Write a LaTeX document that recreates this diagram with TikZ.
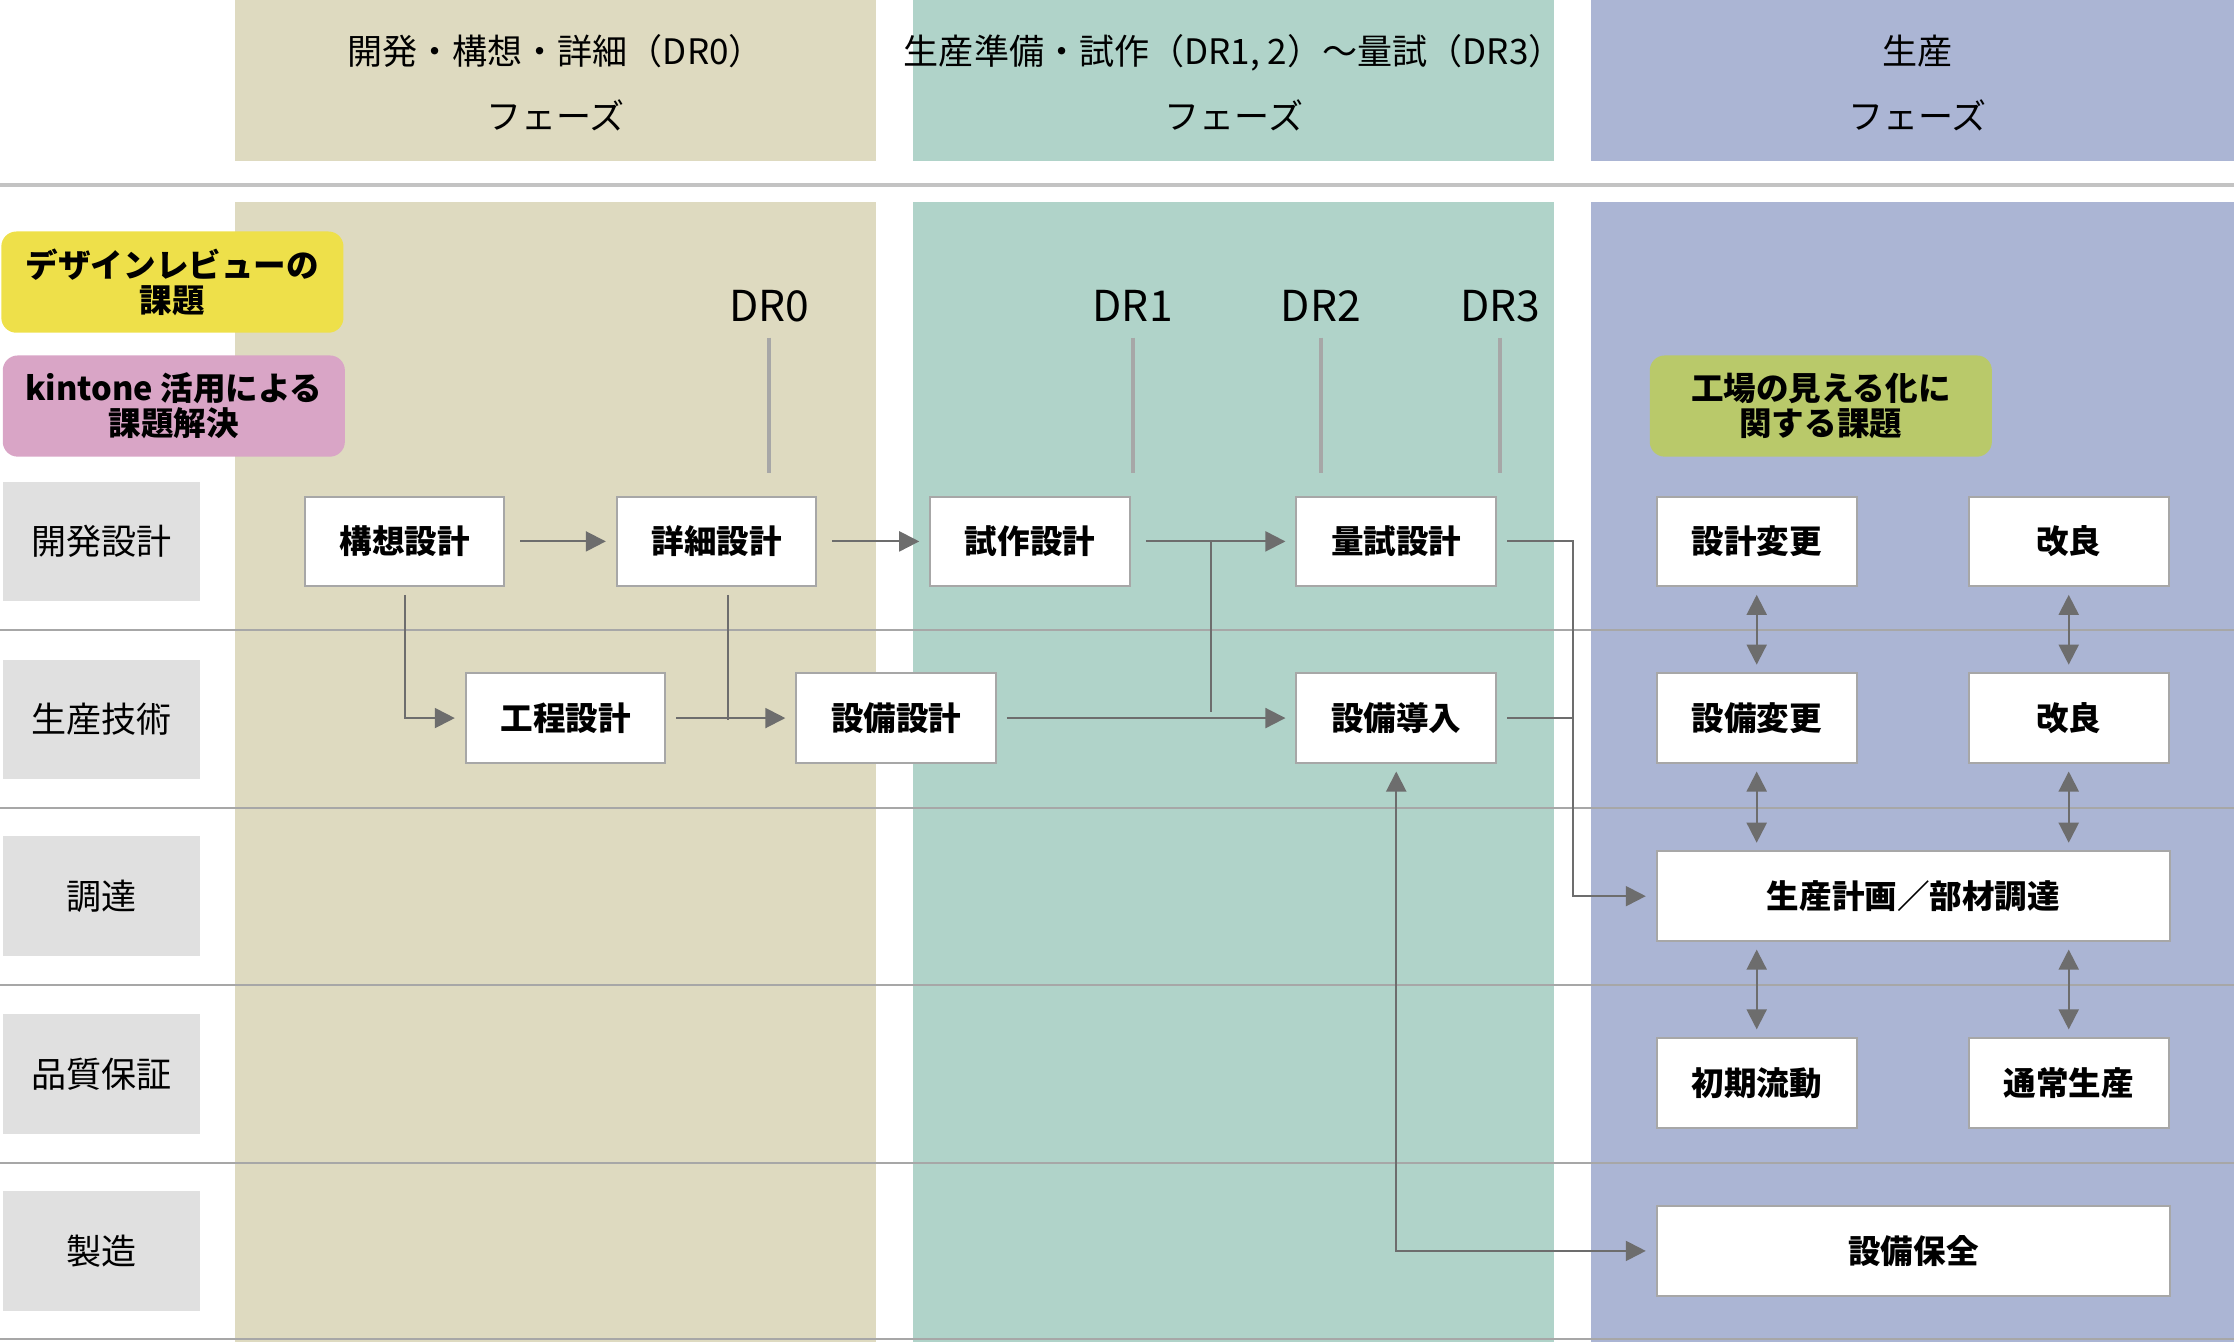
\documentclass[tikz,border=0pt]{standalone}
\usepackage{fontspec}
\setmainfont{Noto Sans CJK JP}
\usetikzlibrary{arrows.meta,positioning}
\definecolor{phaseA}{HTML}{DEDAC0}
\definecolor{phaseB}{HTML}{B0D3C9}
\definecolor{phaseC}{HTML}{ABB5D4}
\definecolor{rowgray}{HTML}{E0E0E0}
\definecolor{linegray}{HTML}{6D6D6D}
\tikzset{
  task/.style={draw=linegray!60,fill=white,minimum width=1.4cm,minimum height=0.63cm,font=\fontsize{6.5}{7}\selectfont\bfseries,inner sep=0pt},
  widetask/.style={task,minimum width=3.6cm},
  rowlabel/.style={fill=rowgray,minimum width=1.38cm,minimum height=0.84cm,font=\fontsize{7}{8}\selectfont,inner sep=0pt},
  tag/.style={rounded corners=3pt,minimum width=2.4cm,minimum height=0.71cm,align=center,font=\fontsize{6.5}{7}\selectfont\bfseries,inner sep=0pt},
  flow/.style={draw=linegray,-{Triangle[length=4pt,width=4pt]}},
  both/.style={draw=linegray,{Triangle[length=4pt,width=4pt]}-{Triangle[length=4pt,width=4pt]}},
  drmark/.style={font=\fontsize{8.5}{9}\selectfont}
}
\begin{document}
\begin{tikzpicture}[x=0.01cm,y=-0.01cm]
\useasboundingbox (0,0) rectangle (1568,942);
% phases
\fill[phaseA] (165,0) rectangle (615,113);
\fill[phaseB] (641,0) rectangle (1091,113);
\fill[phaseC] (1117,0) rectangle (1568,113);
\fill[phaseA] (165,142) rectangle (615,942);
\fill[phaseB] (641,142) rectangle (1091,942);
\fill[phaseC] (1117,142) rectangle (1568,942);
\node[align=center,font=\fontsize{7}{13}\selectfont] (hA) at (390,58) {開発・構想・詳細（DR0）\\フェーズ};
\node[align=center,font=\fontsize{7}{13}\selectfont] (hB) at (866,58) {生産準備・試作（DR1, 2）〜量試（DR3）\\フェーズ};
\node[align=center,font=\fontsize{7}{13}\selectfont] (hC) at (1346,58) {生産\\フェーズ};
\draw[rowgray!70!gray,line width=0.8pt] (0,130) -- (1568,130);
% row lines
\foreach \y in {442,567,691,816,940}
  \draw[linegray!60] (0,\y) -- (1568,\y);
% row labels
\node[rowlabel] (r1) at (71,380) {開発設計};
\node[rowlabel] (r2) at (71,505) {生産技術};
\node[rowlabel] (r3) at (71,629) {調達};
\node[rowlabel] (r4) at (71,754) {品質保証};
\node[rowlabel] (r5) at (71,878) {製造};
% tags
\node[tag,fill={rgb,255:red,238;green,224;blue,74}] (t1) at (121,198) {デザインレビューの\\課題};
\node[tag,fill={rgb,255:red,217;green,165;blue,198}] (t2) at (122,285) {kintone 活用による\\課題解決};
\node[tag,fill={rgb,255:red,185;green,201;blue,106}] (t3) at (1278,285) {工場の見える化に\\関する課題};
% DR marks
\foreach \n/\x in {0/540,1/795,2/927,3/1053}{
  \node[drmark] (dr\n) at (\x,215) {DR\n};
  \draw[linegray!60,line width=0.8pt] (\x,237) -- (\x,332);
}
% tasks
\node[task] (kousou) at (284,380) {構想設計};
\node[task] (shousai) at (503,380) {詳細設計};
\node[task] (shisaku) at (723,380) {試作設計};
\node[task] (ryoushi) at (980,380) {量試設計};
\node[task] (koutei) at (397,504) {工程設計};
\node[task] (setsubi) at (629,504) {設備設計};
\node[task] (dounyu) at (980,504) {設備導入};
\node[task] (henkou) at (1233,380) {設計変更};
\node[task] (kairyoA) at (1452,380) {改良};
\node[task] (shenkou) at (1233,504) {設備変更};
\node[task] (kairyoB) at (1452,504) {改良};
\node[widetask] (keikaku) at (1343,629) {生産計画／部材調達};
\node[task] (shoki) at (1233,760) {初期流動};
\node[task] (tsujo) at (1452,760) {通常生産};
\node[widetask] (hozen) at (1343,878) {設備保全};
% flows
\draw[flow] ([xshift=3pt]kousou.east) -- ([xshift=-2pt]shousai.west);
\draw[flow] ([xshift=3pt]shousai.east) -- ([xshift=-2pt]shisaku.west);
\draw[flow] ([xshift=3pt]shisaku.east) -- ([xshift=-2pt]ryoushi.west);
\draw[flow] ([yshift=-1.5pt]kousou.south) |- ([xshift=-2pt]koutei.west);
\draw[flow] ([xshift=2pt]koutei.east) -- ([xshift=-2pt]setsubi.west);
\draw[linegray] ([xshift=2.3pt,yshift=-1.5pt]shousai.south) -- ++(0,88);
\draw[flow] ([xshift=2pt]setsubi.east) -- ([xshift=-2pt]dounyu.west);
\draw[linegray] (850,380) -- (850,500);
\draw[flow] ([xshift=2pt]ryoushi.east) -| (1104,629) -- ([xshift=-2pt]keikaku.west);
\draw[linegray] ([xshift=2pt]dounyu.east) -- (1104,504);
\draw[both] ([yshift=-1.5pt]dounyu.south) |- ([xshift=-2pt]hozen.west);
\foreach \a/\b in {henkou/shenkou,kairyoA/kairyoB}
  \draw[both] ([yshift=-1.5pt]\a.south) -- ([yshift=1.5pt]\b.north);
\foreach \a in {shenkou,kairyoB}
  \draw[both] ([yshift=-1.5pt]\a.south) -- ([yshift=1.5pt]\a.south|-keikaku.north);
\foreach \a in {shoki,tsujo}
  \draw[both] ([yshift=-1.5pt]\a.north|-keikaku.south) -- ([yshift=1.5pt]\a.north);
\end{tikzpicture}
\end{document}
